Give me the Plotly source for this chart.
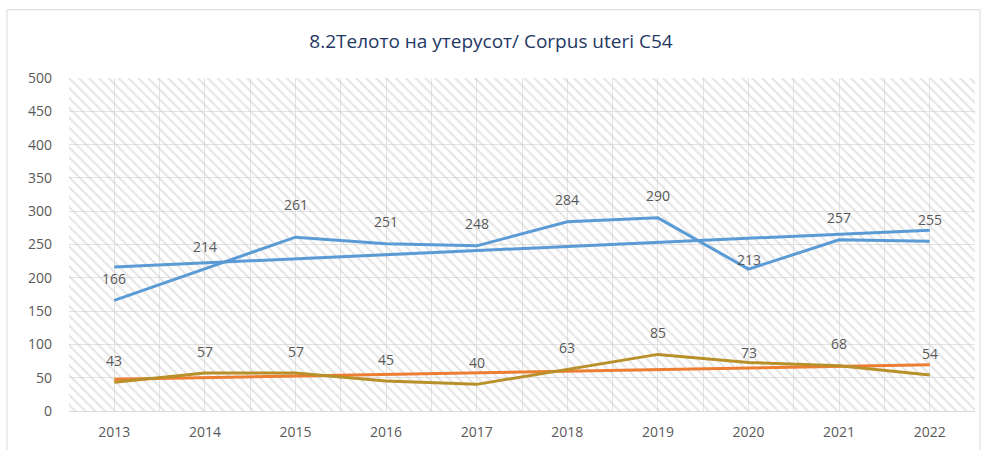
import numpy as np
import plotly.graph_objects as go

years = [2013, 2014, 2015, 2016, 2017, 2018, 2019, 2020, 2021, 2022]
series_blue = [166, 214, 261, 251, 248, 284, 290, 213, 257, 255]
series_gold = [43, 57, 57, 45, 40, 63, 85, 73, 68, 54]
title_text = "8.2Телото на утерусот/ Corpus uteri C54"

BLUE = "#5B9BD5"
GOLD = "#B8902A"
ORANGE = "#ED7D31"
GREY_TXT = "#595959"
FONT = "Open Sans, sans-serif"

x = np.array(years, dtype=float)
tb = np.polyval(np.polyfit(x, series_blue, 1), x)
tg = np.polyval(np.polyfit(x, series_gold, 1), x)

fig = go.Figure()

# hatched plot-area background
fig.add_trace(go.Scatter(
    x=[years[0] - 0.5, years[-1] + 0.5], y=[500, 500], mode="lines",
    line=dict(width=0), fill="tozeroy", fillcolor="rgba(0,0,0,0)",
    fillpattern=dict(shape="\\", fgcolor="#cacaca", bgcolor="rgba(0,0,0,0)",
                     size=7, solidity=0.28),
    hoverinfo="skip", showlegend=False))

fig.add_trace(go.Scatter(x=years, y=tb, mode="lines",
                         line=dict(color=BLUE, width=3), showlegend=False))
fig.add_trace(go.Scatter(x=years, y=tg, mode="lines",
                         line=dict(color=ORANGE, width=3), showlegend=False))
fig.add_trace(go.Scatter(x=years, y=series_blue, mode="lines",
                         line=dict(color=BLUE, width=3), showlegend=False))
fig.add_trace(go.Scatter(x=years, y=series_gold, mode="lines",
                         line=dict(color=GOLD, width=3), showlegend=False))

# data labels
shift_override = {(0, 2020): 10, (1, 2020): 10, (0, 2015): 33}
for si, ser in enumerate([series_blue, series_gold]):
    for yr, v in zip(years, ser):
        fig.add_annotation(x=yr, y=v, text=str(v), showarrow=False,
                           yshift=shift_override.get((si, yr), 22),
                           font=dict(family=FONT, size=14, color=GREY_TXT))

fig.update_layout(
    width=982, height=450,
    margin=dict(l=69, r=7, t=78, b=39, autoexpand=False),
    paper_bgcolor="white", plot_bgcolor="white",
    title=dict(text=title_text, x=0.5, xanchor="center", xref="container",
               y=1 - 41 / 450, yanchor="middle", yref="container",
               font=dict(family=FONT, size=19, color="#1F3864")),
    xaxis=dict(range=[years[0] - 0.5, years[-1] + 0.5], tickmode="array", tickvals=years,
               ticktext=[str(y) for y in years], showgrid=True, gridcolor="#e3e3e3",
               minor=dict(tick0=years[0] - 0.5, dtick=1, showgrid=True, gridcolor="#e3e3e3"),
               showline=True, linecolor="#d9d9d9", zeroline=False, ticks="",
               automargin=False, ticklabelstandoff=8,
               tickfont=dict(family=FONT, size=14, color=GREY_TXT)),
    yaxis=dict(range=[0, 500], tickmode="linear", tick0=0, dtick=50, showgrid=True,
               gridcolor="#e3e3e3", zeroline=False, showline=False, ticks="",
               automargin=False, ticklabelstandoff=16,
               tickfont=dict(family=FONT, size=14, color=GREY_TXT)),
)

fig.add_shape(type="rect", xref="paper", yref="paper", x0=-62 / 906, x1=1 + 5 / 906,
              y0=-60 / 332, y1=1 + 68 / 332, line=dict(color="#d9d9d9", width=1),
              fillcolor="rgba(0,0,0,0)", layer="below")

fig.write_html("out.html", config={"displayModeBar": False},
               post_script="document.body.style.margin='0';document.body.style.padding='0';")
